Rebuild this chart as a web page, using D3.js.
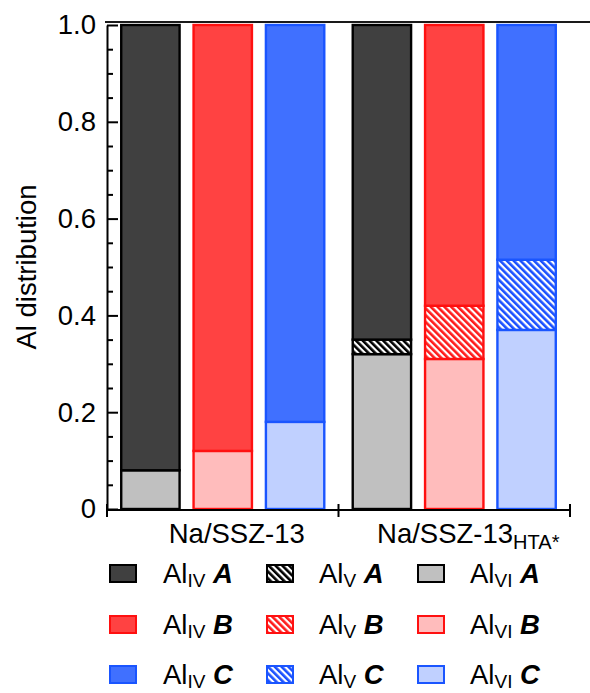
<!DOCTYPE html>
<html>
<head>
<meta charset="utf-8">
<script src="https://cdn.jsdelivr.net/npm/d3@7"></script>
<style>
  body { margin: 0; background: #fff; }
  svg { font-family: "Liberation Sans", Arial, sans-serif; }
</style>
</head>
<body>
<div class="chart"></div>
<script>
// data
var categories = ["Na/SSZ-13", "Na/SSZ-13HTA*"];
var catMain = ["Na/SSZ-13", "Na/SSZ-13"];
var catSub = ["", "HTA*"];
var sites = ["A", "B", "C"];
// fractions per category, per site A/B/C
var alVI = [[0.08, 0.12, 0.18], [0.32, 0.31, 0.37]];
var alV  = [[0.00, 0.00, 0.00], [0.03, 0.11, 0.145]];
var alIV = [[0.92, 0.88, 0.82], [0.65, 0.58, 0.485]];
var yTicks = [0, 0.2, 0.4, 0.6, 0.8, 1.0];

var fills = {
  A: { IV: "#404040", V: "#000000", VI: "#c0c0c0", stroke: "#000000" },
  B: { IV: "#ff4242", V: "#ff1a1a", VI: "#ffbcbc", stroke: "#ff1010" },
  C: { IV: "#4070ff", V: "#1a50ff", VI: "#c0d0ff", stroke: "#1a55ff" }
};

var W = 590, H = 693;
var svg = d3.select(".chart").append("svg")
    .attr("width", W)
    .attr("height", H);

var defs = svg.append("defs");
sites.forEach(function(s) {
  var p = defs.append("pattern")
      .attr("id", "hatch" + s)
      .attr("patternUnits", "userSpaceOnUse")
      .attr("width", 4.8)
      .attr("height", 10)
      .attr("patternTransform", "rotate(-45)");
  p.append("rect").attr("width", 4.8).attr("height", 10).attr("fill", "#fff");
  p.append("rect").attr("width", 2.6).attr("height", 10).attr("fill", fills[s].V);
});

var x0 = d3.scaleBand().domain(categories).range([107, 570]).padding(0);
var x1 = d3.scaleBand().domain(sites).range([0, x0.bandwidth()])
    .paddingInner(0.16).paddingOuter(0.18);
var y = d3.scaleLinear().domain([0, 1]).range([509, 25]);

// top frame line
svg.append("line")
    .attr("x1", 105).attr("x2", 590)
    .attr("y1", 22).attr("y2", 22)
    .attr("stroke", "#1a1a1a").attr("stroke-width", 2);

// bars
var segs = [];
categories.forEach(function(c, ci) {
  sites.forEach(function(s, si) {
    var b0 = 0;
    [["VI", alVI], ["V", alV], ["IV", alIV]].forEach(function(k) {
      var v = k[1][ci][si];
      if (v > 0) segs.push({ cat: c, site: s, kind: k[0], y0: b0, y1: b0 + v });
      b0 += v;
    });
  });
});

svg.append("g").selectAll("rect")
  .data(segs)
  .enter().append("rect")
    .attr("x", function(d) { return x0(d.cat) + x1(d.site) + 1.2; })
    .attr("width", x1.bandwidth() - 2.4)
    .attr("y", function(d) { return y(d.y1); })
    .attr("height", function(d) { return y(d.y0) - y(d.y1); })
    .attr("fill", function(d) { return d.kind == "V" ? "url(#hatch" + d.site + ")" : fills[d.site][d.kind]; })
    .attr("stroke", function(d) { return fills[d.site].stroke; })
    .attr("stroke-width", 2.4);

// y axis, major + minor ticks pointing inward
var yAxis = svg.append("g")
    .attr("transform", "translate(107,0)")
    .call(d3.axisLeft(y).tickValues(yTicks).tickSizeInner(-11).tickSizeOuter(0).tickPadding(11)
      .tickFormat(function(d) { return d == 0 ? "0" : d3.format(".1f")(d); }));
yAxis.select(".domain").attr("stroke-width", 2);
yAxis.selectAll(".tick line").attr("stroke-width", 2);
yAxis.selectAll("text").attr("font-size", 27.5).attr("fill", "#000")
    .attr("font-family", "Liberation Sans, Arial, sans-serif");

var minor = d3.range(1, 20).map(function(i) { return i / 20; }).filter(function(v, i) { return (i + 1) % 4 != 0; });
var yMinor = svg.append("g")
    .attr("transform", "translate(107,0)")
    .call(d3.axisLeft(y).tickValues(minor).tickSizeInner(-6).tickSizeOuter(0).tickFormat(""));
yMinor.select(".domain").remove();
yMinor.selectAll(".tick line").attr("stroke-width", 2);

svg.append("text")
    .attr("transform", "translate(36," + y(0.5) + ") rotate(-90)")
    .attr("text-anchor", "middle")
    .attr("font-size", 27.5)
    .text("Al distribution");

// x axis with crossing ticks at the group edges
var xAxis = svg.append("g");
xAxis.append("line")
    .attr("x1", x0.range()[0]).attr("x2", x0.range()[1])
    .attr("y1", 510).attr("y2", 510)
    .attr("stroke", "#000").attr("stroke-width", 2);
var edges = categories.map(function(c) { return x0(c); }).concat([x0.range()[1]]);
xAxis.selectAll(".edge")
  .data(edges)
  .enter().append("line")
    .attr("x1", function(d) { return d; }).attr("x2", function(d) { return d; })
    .attr("y1", 504).attr("y2", 517)
    .attr("stroke", "#000").attr("stroke-width", 2);

var catLab = xAxis.selectAll(".cat")
  .data(categories)
  .enter().append("text")
    .attr("x", function(d) { return x0(d) + x0.bandwidth() / 2 + 14; })
    .attr("y", 543)
    .attr("text-anchor", "middle")
    .attr("font-size", 27.5);
catLab.append("tspan").text(function(d, i) { return catMain[i]; });
catLab.append("tspan").attr("font-size", 20).attr("dy", 6).text(function(d, i) { return catSub[i]; });

// legend
var kinds = ["IV", "V", "VI"];
var colX = [109, 266, 417];
var textX = [163, 319, 470];
var rowY = [564, 615, 665];
var leg = svg.append("g");
sites.forEach(function(s, ri) {
  kinds.forEach(function(k, ci) {
    leg.append("rect")
        .attr("x", colX[ci] + 1).attr("y", rowY[ri] + 1)
        .attr("width", 26).attr("height", 17)
        .attr("fill", k == "V" ? "url(#hatch" + s + ")" : fills[s][k])
        .attr("stroke", fills[s].stroke)
        .attr("stroke-width", 2);
    var t = leg.append("text")
        .attr("x", textX[ci]).attr("y", rowY[ri] + 19)
        .attr("font-size", 27.5);
    t.append("tspan").text("Al");
    t.append("tspan").attr("font-size", 19).attr("dy", 4).text(k);
    t.append("tspan").attr("dy", -4).text(" ");
    t.append("tspan").attr("font-weight", "bold").attr("font-style", "italic").text(s);
  });
});
</script>
</body>
</html>
